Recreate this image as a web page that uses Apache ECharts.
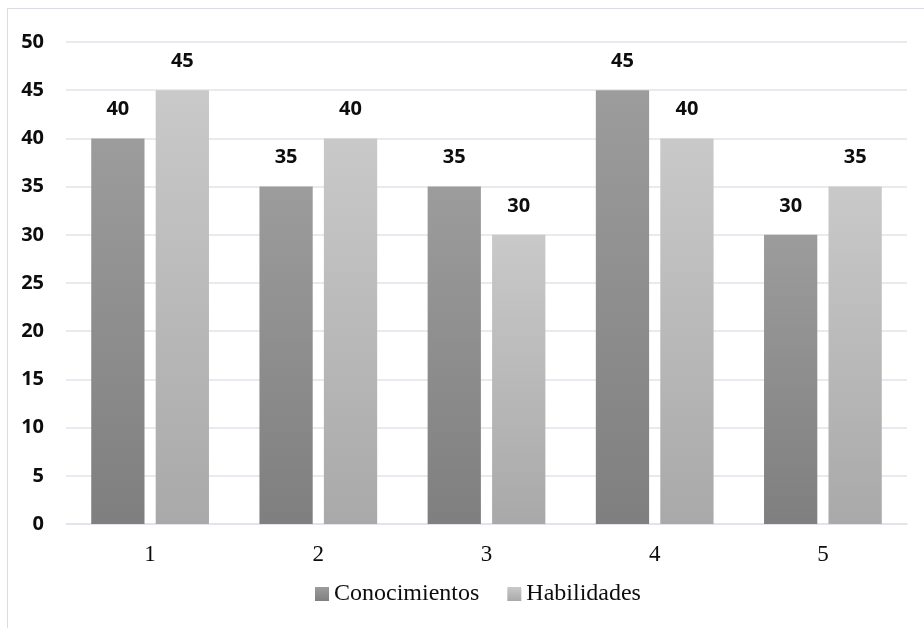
<!DOCTYPE html>
<html>
<head>
<meta charset="utf-8">
<script src="https://cdn.jsdelivr.net/npm/echarts@6/dist/echarts.min.js"></script>
<style>
  html, body { margin: 0; padding: 0; background: #ffffff; }
  #frame { position: absolute; left: 7px; top: 8px; width: 930px; height: 640px; border: 1px solid #d9dde3; box-sizing: border-box; }
  #chart { position: absolute; left: 0; top: 0; width: 924px; height: 628px; }
</style>
</head>
<body>
<div id="frame"></div>
<div id="chart"></div>
<script>
const categories = ['1', '2', '3', '4', '5'];
const conocimientos = [40, 35, 35, 45, 30];
const habilidades = [45, 40, 30, 40, 35];
const yTicks = { min: 0, max: 50, interval: 5 };

function vgrad(top, bottom) {
  return new echarts.graphic.LinearGradient(0, 0, 0, 1, [
    { offset: 0, color: top },
    { offset: 1, color: bottom }
  ]);
}

const labelStyle = {
  show: true,
  position: 'top',
  distance: 19,
  fontFamily: 'Open Sans',
  fontWeight: 'bold',
  fontSize: 20,
  color: '#0d0d0d'
};

const chart = echarts.init(document.getElementById('chart'));
chart.setOption({
  animation: false,
  grid: { left: 66, right: 17, top: 42, bottom: 104, containLabel: false },
  legend: {
    top: 577,
    left: 310,
    itemWidth: 14,
    itemHeight: 14,
    itemGap: 28,
    icon: 'rect',
    textStyle: { fontFamily: 'Liberation Serif', fontSize: 24, color: '#0d0d0d', padding: [2, 0, 0, 0] },
    data: ['Conocimientos', 'Habilidades']
  },
  xAxis: {
    type: 'category',
    data: categories,
    axisTick: { show: false },
    axisLine: { show: true, lineStyle: { color: '#dfe3e8', width: 1.5 } },
    axisLabel: { fontFamily: 'Liberation Serif', fontSize: 23, color: '#0d0d0d', margin: 19 }
  },
  yAxis: {
    type: 'value',
    min: yTicks.min,
    max: yTicks.max,
    interval: yTicks.interval,
    axisLine: { show: false },
    axisTick: { show: false },
    splitLine: { lineStyle: { color: '#dfe3e8', width: 1.5 } },
    axisLabel: { fontFamily: 'Open Sans', fontWeight: 'bold', fontSize: 20, color: '#0d0d0d', margin: 22 }
  },
  series: [
    {
      name: 'Conocimientos',
      type: 'bar',
      data: conocimientos,
      barCategoryGap: '30%',
      barGap: '21%',
      itemStyle: { color: vgrad('#9c9c9c', '#7f7f7f') },
      label: labelStyle
    },
    {
      name: 'Habilidades',
      type: 'bar',
      data: habilidades,
      itemStyle: { color: vgrad('#c9c9c9', '#a9a9a9') },
      label: labelStyle
    }
  ]
});
</script>
</body>
</html>
